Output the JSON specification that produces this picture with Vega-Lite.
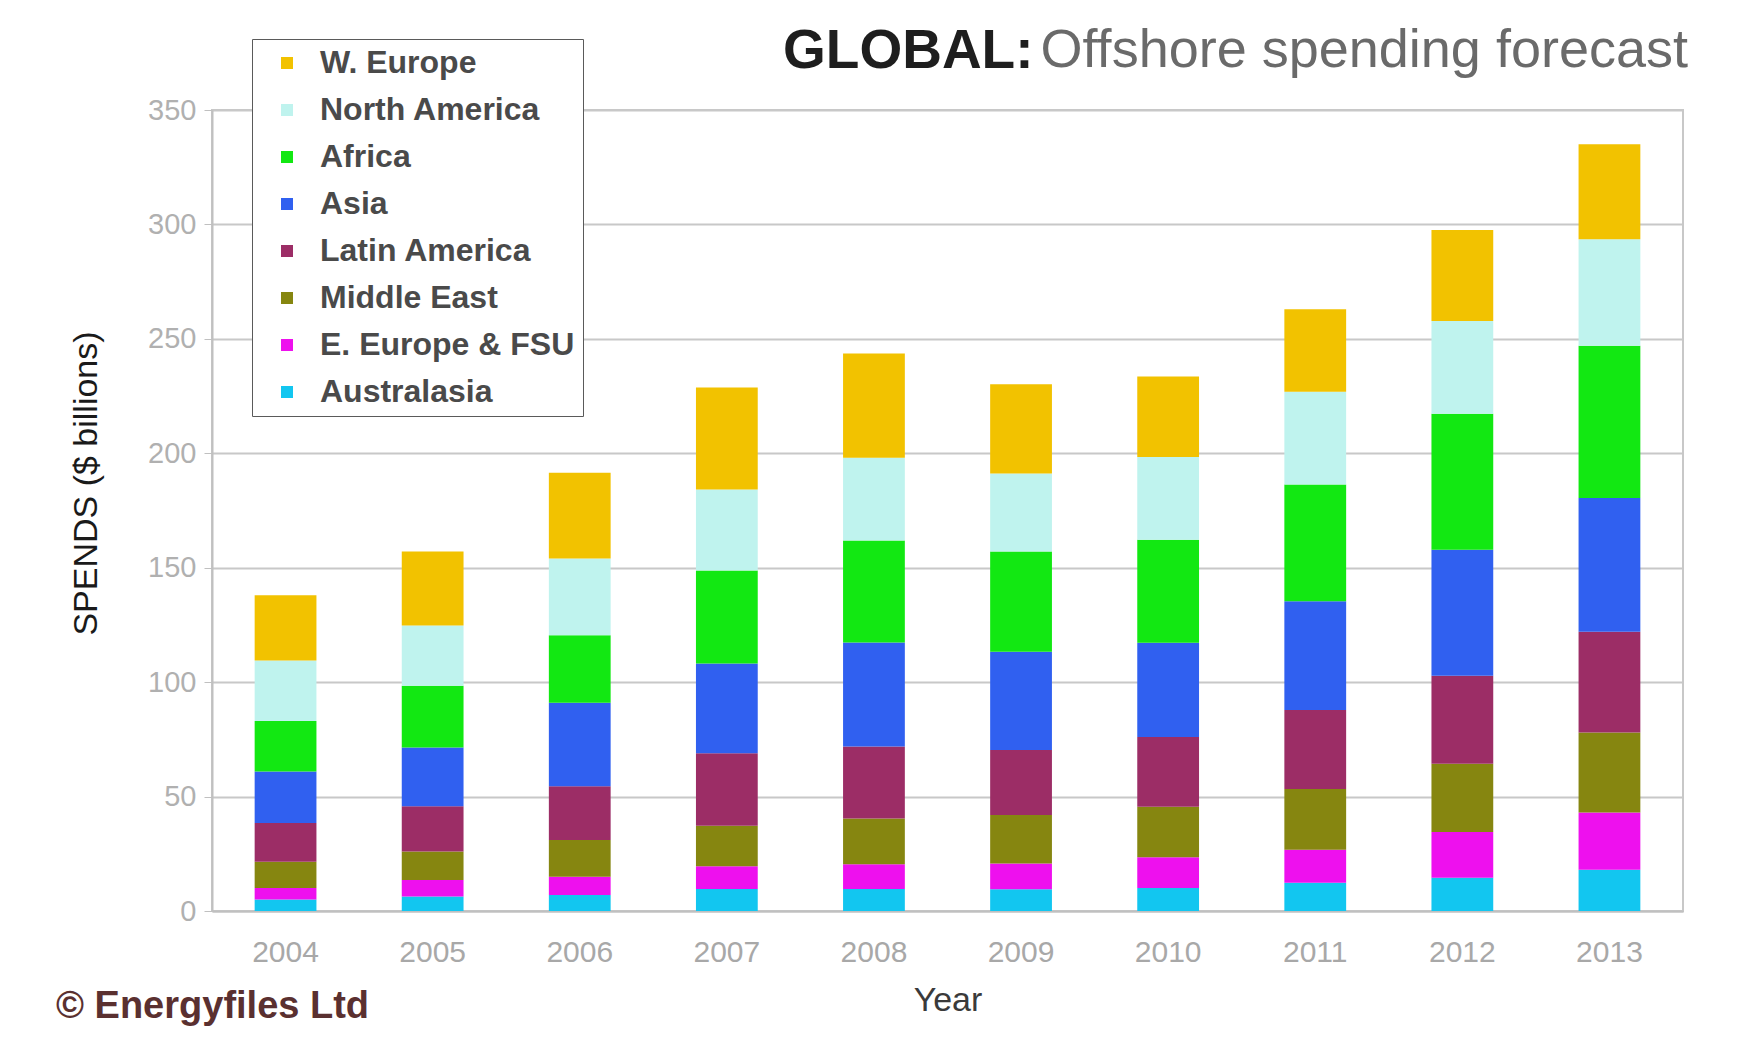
{
  "$schema": "https://vega.github.io/schema/vega-lite/v6.json",
  "background": "white",
  "padding": {"left": 56, "top": 23, "right": 5, "bottom": 5},
  "title": {
    "text": "© Energyfiles Ltd",
    "orient": "bottom",
    "anchor": "start",
    "frame": "group",
    "dx": -156,
    "offset": -30,
    "font": "Liberation Sans",
    "fontSize": 38,
    "fontWeight": "bold",
    "color": "#5a3030"
  },
  "vconcat": [
    {
      "title": {
        "text": "Offshore spending forecast",
        "orient": "top",
        "anchor": "end",
        "frame": "bounds",
        "dx": 4,
        "offset": -55,
        "font": "Liberation Sans",
        "fontSize": 54,
        "lineHeight": 55,
        "fontWeight": "normal",
        "color": "#6a6a6a"
      },
      "vconcat": [
        {
          "width": 1471,
          "height": 801,
          "title": {
            "text": "GLOBAL:",
            "anchor": "start",
            "frame": "group",
            "dx": 571,
            "offset": 16,
            "font": "Liberation Sans",
            "fontSize": 55,
            "fontWeight": "bold",
            "color": "#1e1e1e",
            "lineHeight": 55
          },
          "data": {
            "values": [
              {"year": "2004", "region": "Australasia", "spend": 5},
              {"year": "2004", "region": "E. Europe & FSU", "spend": 5},
              {"year": "2004", "region": "Middle East", "spend": 11.5},
              {"year": "2004", "region": "Latin America", "spend": 17},
              {"year": "2004", "region": "Asia", "spend": 22.5},
              {"year": "2004", "region": "Africa", "spend": 22},
              {"year": "2004", "region": "North America", "spend": 26.5},
              {"year": "2004", "region": "W. Europe", "spend": 28.5},
              {"year": "2005", "region": "Australasia", "spend": 6.3},
              {"year": "2005", "region": "E. Europe & FSU", "spend": 7.3},
              {"year": "2005", "region": "Middle East", "spend": 12.4},
              {"year": "2005", "region": "Latin America", "spend": 19.8},
              {"year": "2005", "region": "Asia", "spend": 25.6},
              {"year": "2005", "region": "Africa", "spend": 27},
              {"year": "2005", "region": "North America", "spend": 26.3},
              {"year": "2005", "region": "W. Europe", "spend": 32.4},
              {"year": "2006", "region": "Australasia", "spend": 7},
              {"year": "2006", "region": "E. Europe & FSU", "spend": 8},
              {"year": "2006", "region": "Middle East", "spend": 16},
              {"year": "2006", "region": "Latin America", "spend": 23.5},
              {"year": "2006", "region": "Asia", "spend": 36.5},
              {"year": "2006", "region": "Africa", "spend": 29.5},
              {"year": "2006", "region": "North America", "spend": 33.5},
              {"year": "2006", "region": "W. Europe", "spend": 37.5},
              {"year": "2007", "region": "Australasia", "spend": 9.6},
              {"year": "2007", "region": "E. Europe & FSU", "spend": 10},
              {"year": "2007", "region": "Middle East", "spend": 17.7},
              {"year": "2007", "region": "Latin America", "spend": 31.6},
              {"year": "2007", "region": "Asia", "spend": 39.2},
              {"year": "2007", "region": "Africa", "spend": 40.7},
              {"year": "2007", "region": "North America", "spend": 35.4},
              {"year": "2007", "region": "W. Europe", "spend": 44.5},
              {"year": "2008", "region": "Australasia", "spend": 9.6},
              {"year": "2008", "region": "E. Europe & FSU", "spend": 10.8},
              {"year": "2008", "region": "Middle East", "spend": 20},
              {"year": "2008", "region": "Latin America", "spend": 31.5},
              {"year": "2008", "region": "Asia", "spend": 45.4},
              {"year": "2008", "region": "Africa", "spend": 44.6},
              {"year": "2008", "region": "North America", "spend": 36.2},
              {"year": "2008", "region": "W. Europe", "spend": 45.5},
              {"year": "2009", "region": "Australasia", "spend": 9.5},
              {"year": "2009", "region": "E. Europe & FSU", "spend": 11.3},
              {"year": "2009", "region": "Middle East", "spend": 21.1},
              {"year": "2009", "region": "Latin America", "spend": 28.4},
              {"year": "2009", "region": "Asia", "spend": 43},
              {"year": "2009", "region": "Africa", "spend": 43.8},
              {"year": "2009", "region": "North America", "spend": 34.1},
              {"year": "2009", "region": "W. Europe", "spend": 39},
              {"year": "2010", "region": "Australasia", "spend": 10},
              {"year": "2010", "region": "E. Europe & FSU", "spend": 13.5},
              {"year": "2010", "region": "Middle East", "spend": 22},
              {"year": "2010", "region": "Latin America", "spend": 30.5},
              {"year": "2010", "region": "Asia", "spend": 41.2},
              {"year": "2010", "region": "Africa", "spend": 45},
              {"year": "2010", "region": "North America", "spend": 36.2},
              {"year": "2010", "region": "W. Europe", "spend": 35.2},
              {"year": "2011", "region": "Australasia", "spend": 12.3},
              {"year": "2011", "region": "E. Europe & FSU", "spend": 14.5},
              {"year": "2011", "region": "Middle East", "spend": 26.5},
              {"year": "2011", "region": "Latin America", "spend": 34.5},
              {"year": "2011", "region": "Asia", "spend": 47.6},
              {"year": "2011", "region": "Africa", "spend": 51},
              {"year": "2011", "region": "North America", "spend": 40.5},
              {"year": "2011", "region": "W. Europe", "spend": 36},
              {"year": "2012", "region": "Australasia", "spend": 14.5},
              {"year": "2012", "region": "E. Europe & FSU", "spend": 20},
              {"year": "2012", "region": "Middle East", "spend": 29.8},
              {"year": "2012", "region": "Latin America", "spend": 38.5},
              {"year": "2012", "region": "Asia", "spend": 55},
              {"year": "2012", "region": "Africa", "spend": 59.5},
              {"year": "2012", "region": "North America", "spend": 40.5},
              {"year": "2012", "region": "W. Europe", "spend": 39.8},
              {"year": "2013", "region": "Australasia", "spend": 18},
              {"year": "2013", "region": "E. Europe & FSU", "spend": 25},
              {"year": "2013", "region": "Middle East", "spend": 35},
              {"year": "2013", "region": "Latin America", "spend": 44},
              {"year": "2013", "region": "Asia", "spend": 58.5},
              {"year": "2013", "region": "Africa", "spend": 66.5},
              {"year": "2013", "region": "North America", "spend": 46.5},
              {"year": "2013", "region": "W. Europe", "spend": 41.5}
            ]
          },
          "transform": [
            {"window": [{"op": "row_number", "as": "stackRank"}], "groupby": ["year"]}
          ],
          "mark": {"type": "bar"},
          "encoding": {
            "x": {
              "field": "year",
              "type": "ordinal",
              "scale": {"paddingInner": 0.58, "paddingOuter": 0.29},
              "axis": {
                "title": "Year",
                "labelAngle": 0,
                "ticks": false,
                "labelPadding": 26,
                "labelFontSize": 30,
                "labelColor": "#a8a8a8",
                "titleFontSize": 34,
                "titleFontWeight": "normal",
                "titleColor": "#3a3a3a",
                "titlePadding": 16,
                "grid": false
              }
            },
            "y": {
              "field": "spend",
              "type": "quantitative",
              "stack": "zero",
              "scale": {"domain": [0, 350], "nice": false},
              "axis": {
                "title": "SPENDS ($ billions)",
                "values": [0, 50, 100, 150, 200, 250, 300, 350],
                "labelFontSize": 29,
                "labelColor": "#b0b0b0",
                "labelPadding": 8,
                "tickSize": 8,
                "tickColor": "#c0c0c0",
                "titleFontSize": 34,
                "titleFontWeight": "normal",
                "titleColor": "#1a1a1a",
                "titlePadding": 44,
                "titleY": 373,
                "grid": true
              }
            },
            "color": {
              "field": "region",
              "type": "nominal",
              "scale": {
                "domain": ["W. Europe", "North America", "Africa", "Asia", "Latin America", "Middle East", "E. Europe & FSU", "Australasia"],
                "range": ["#F2C200", "#BFF3EE", "#12E812", "#3060F0", "#9C2D66", "#868610", "#EE10EE", "#12C6F0"]
              },
              "legend": {
                "title": null,
                "orient": "none",
                "legendX": 40,
                "legendY": -71,
                "direction": "vertical",
                "fillColor": "white",
                "strokeColor": "#5a5a5a",
                "padding": 8,
                "symbolType": "square",
                "symbolSize": 144,
                "symbolOffset": 11,
                "symbolStrokeWidth": 0,
                "labelFontSize": 32,
                "labelFontWeight": "bold",
                "labelColor": "#4a4a4a",
                "labelOffset": 17,
                "labelLimit": 500,
                "rowPadding": 15
              }
            },
            "order": {"field": "stackRank", "type": "quantitative", "sort": "ascending"}
          }
        }
      ]
    }
  ],
  "config": {
    "font": "Liberation Sans",
    "view": {"stroke": "#c8c8c8", "strokeWidth": 2},
    "axis": {
      "labelFont": "Liberation Sans",
      "titleFont": "Liberation Sans",
      "domainColor": "#c0c0c0",
      "domainWidth": 2,
      "gridColor": "#c8c8c8",
      "gridWidth": 2
    },
    "legend": {"labelFont": "Liberation Sans"}
  }
}
